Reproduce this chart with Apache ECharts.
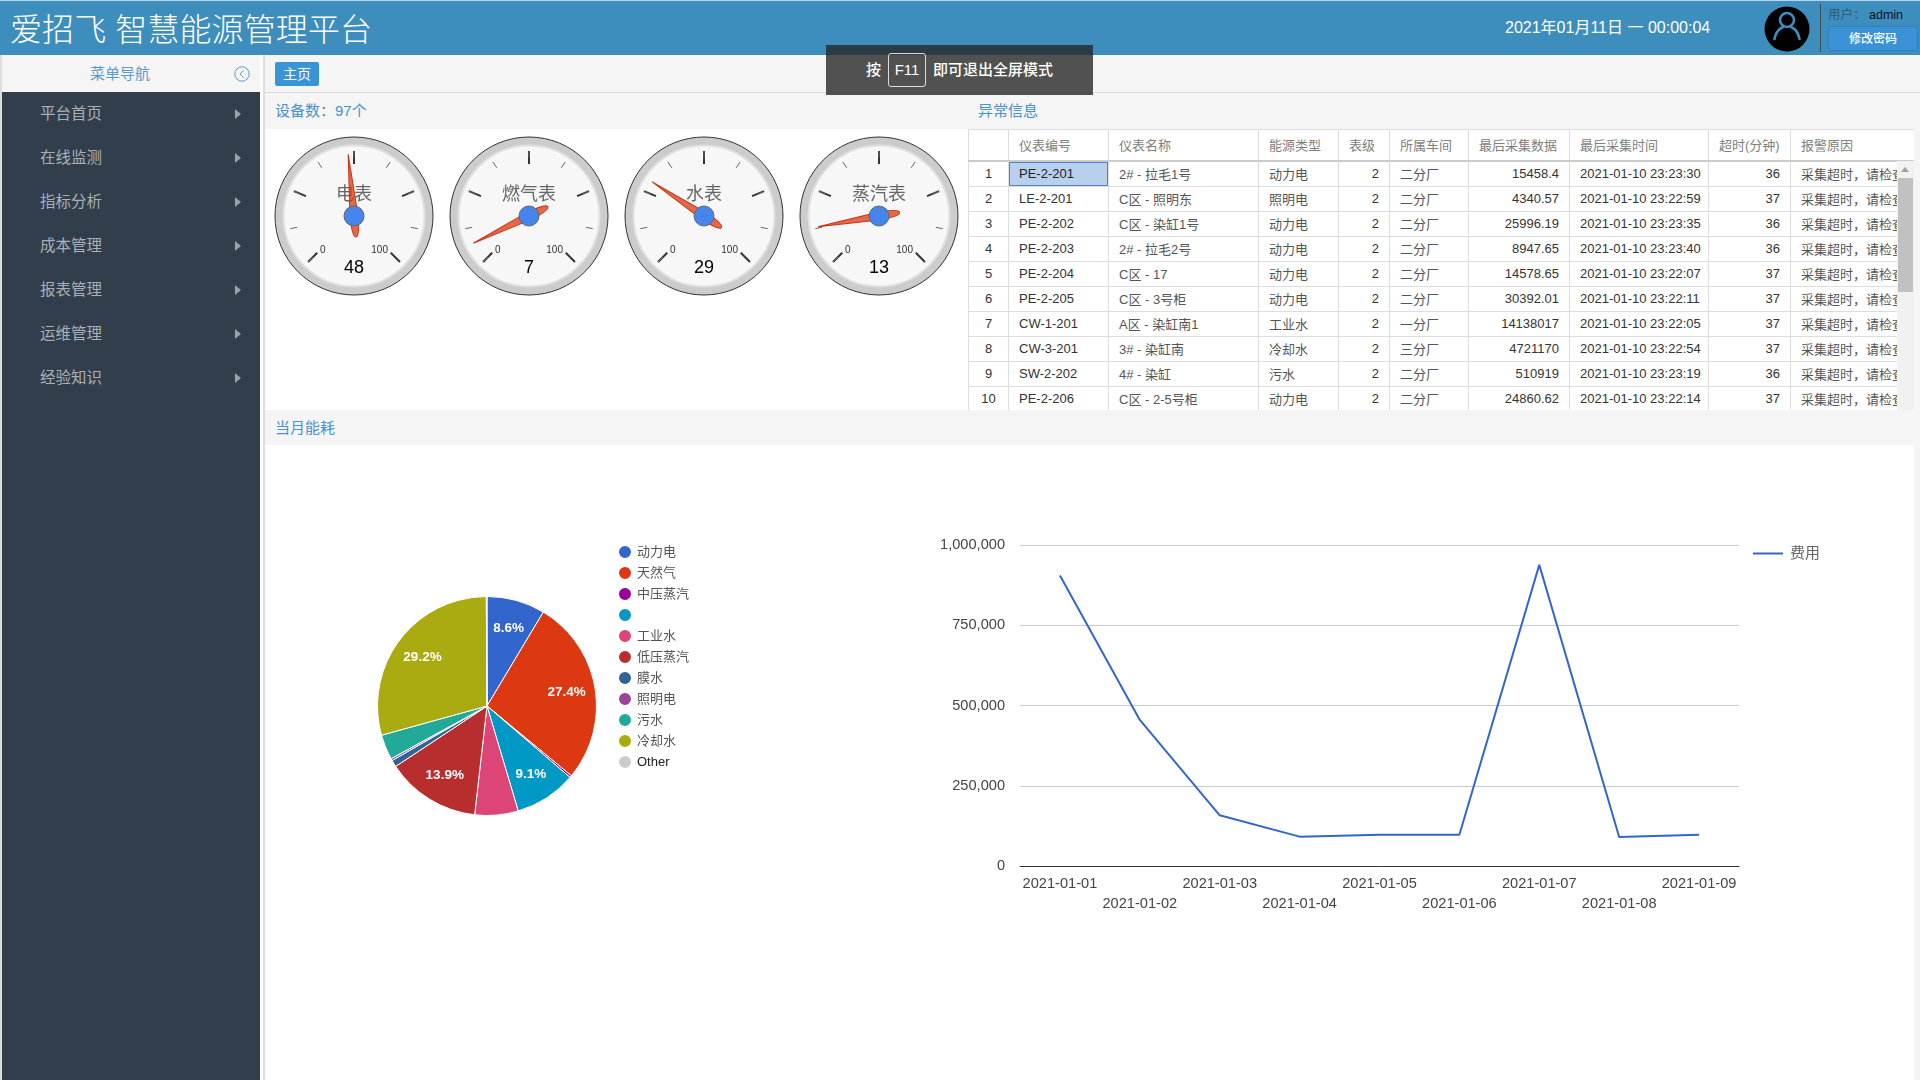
<!DOCTYPE html>
<html>
<head>
<meta charset="utf-8">
<title>爱招飞 智慧能源管理平台</title>
<script src="https://cdn.jsdelivr.net/npm/echarts@6/dist/echarts.min.js"></script>
<style>
  * { box-sizing: border-box; }
  html, body { margin: 0; width: 1920px; height: 1080px; overflow: hidden; background: #f5f5f5;
    font-family: "Liberation Sans", "Noto Sans CJK SC", sans-serif; }
  .abs { position: absolute; }
  #edge { left: 0; top: 55px; width: 2px; height: 1025px; background: #ddd; }
  #header { left: 0; top: 0; width: 1920px; height: 55px; background: #3d8ebd; border-top: 1px solid #b8d4e6; color: #fff; }
  #logo { left: 10px; top: 8px; font-size: 32px; line-height: 42px; font-weight: 300; white-space: nowrap; letter-spacing: 0.1px; }
  #clock { left: 1505px; top: 17px; font-size: 16px; line-height: 20px; white-space: nowrap; }
  #divider { left: 1820px; top: 3px; width: 1px; height: 48px; background: #3c4a52; }
  #user { left: 1828px; top: 6px; font-size: 12.5px; line-height: 16px; color: #2a5f80; white-space: nowrap; }
  #user em { font-style: normal; color: #111; }
  #pwd { left: 1828px; top: 25px; width: 90px; height: 25px; background: #3c92d6; border: 1px solid #2f80c4; border-radius: 3px;
    font-size: 12px; font-weight: 500; line-height: 24px; text-align: center; color: #fff; }
  #navtitle { left: 2px; top: 55px; width: 258px; height: 37px; background: #f5f5f5; color: #5b9bd0; font-size: 15px; line-height: 37px; text-align: center; padding-right: 22px; }
  #collapse { left: 234px; top: 66px; }
  #sidebar { left: 2px; top: 92px; width: 258px; height: 988px; background: #323e4c; }
  #sidebar div { position: relative; height: 44px; line-height: 44px; padding-left: 38px; font-size: 15.5px; color: #a9b0b7; }
  #sidebar div::after { content: ""; position: absolute; left: 233px; top: 17px; border-left: 6px solid #9aa2aa; border-top: 5px solid transparent; border-bottom: 5px solid transparent; }
  #gutter { left: 260px; top: 55px; width: 3px; height: 1025px; background: #fff; }
  #gutterline { left: 263px; top: 55px; width: 2px; height: 1025px; background: #ddd; }
  #crumb { left: 275px; top: 62px; width: 44px; height: 24px; background: #3a94d8; border-radius: 2px; color: #fff; font-size: 14px; line-height: 24px; text-align: center; }
  #crumbline { left: 264px; top: 92px; width: 1656px; height: 1px; background: #ddd; }
  .section { font-size: 15px; line-height: 20px; color: #4a90d2; white-space: nowrap; }
  #fsnote { left: 826px; top: 45px; width: 267px; height: 50px; background: rgba(40,40,40,.8); color: #fff; font-size: 15px; line-height: 50px; text-align: center; font-weight: 500; }
  #fsnote span { display: inline-block; width: 38px; height: 34px; line-height: 32px; border: 1px solid #ddd; border-radius: 3px; padding: 0; margin: 0 7px; font-weight: normal; }
  #gauges { left: 265px; top: 129px; width: 703px; height: 281px; background: #fff; }
  #tablewrap { left: 968px; top: 129px; width: 946px; height: 281px; background: #fff; overflow: hidden; border-top: 1px solid #ddd; }
  #headfill { left: 1897px; top: 160px; width: 17px; height: 1px; background: #ccc; }
  table { border-collapse: collapse; table-layout: fixed; width: 929px; font-size: 13px; color: #333; }
  th { height: 31px; font-weight: normal; color: #808080; text-align: left; padding: 0 10px 2px; border: 1px solid #ddd; border-bottom: 2px solid #ccc; border-top: 0; white-space: nowrap; overflow: hidden; }
  th:last-child { border-right: 0; }
  td { height: 25px; padding: 0 10px; border: 1px solid #ddd; white-space: nowrap; overflow: hidden; color: #555; }
  td.r, td.d { color: #333; }
  td.r { text-align: right; }
  td.c { text-align: center; padding: 0; color: #333; }
  td.sel { background: #b8d0ee; box-shadow: inset 0 0 0 1px #4a86c8; color: #222; }
  #scroll { left: 1897px; top: 161px; width: 17px; height: 249px; background: #f1f1f1; }
  #scroll i { position: absolute; left: 1px; top: 17px; width: 15px; height: 114px; background: #c1c1c1; }
  #scroll b { position: absolute; left: 4px; top: 6px; border-bottom: 5px solid #a0a0a0; border-left: 4px solid transparent; border-right: 4px solid transparent; }
  #lower { left: 265px; top: 445px; width: 1649px; height: 635px; background: #fff; }
  #pie { left: 265px; top: 445px; width: 699px; height: 635px; }
  #line { left: 900px; top: 445px; width: 1014px; height: 635px; }
</style>
</head>
<body>
<div id="edge" class="abs"></div>
<div id="header" class="abs">
  <div id="logo" class="abs">爱招飞 智慧能源管理平台</div>
  <div id="clock" class="abs">2021年01月11日 一 00:00:04</div>
  <svg class="abs" style="left:1764px;top:5px" width="46" height="46" viewBox="0 0 46 46">
    <circle cx="23" cy="23" r="22.5" fill="#000"/>
    <circle cx="23" cy="14" r="7" fill="none" stroke="#3d8ebd" stroke-width="2.6"/>
    <path d="M10.5 33 Q12 24 19 21 M35.5 33 Q34 24 27 21" fill="none" stroke="#3d8ebd" stroke-width="2.6" stroke-linecap="round"/>
  </svg>
  <div id="divider" class="abs"></div>
  <div id="user" class="abs">用户： <em>admin</em></div>
  <div id="pwd" class="abs">修改密码</div>
</div>
<div id="navtitle" class="abs">菜单导航</div>
<svg id="collapse" class="abs" width="16" height="16" viewBox="0 0 16 16">
  <circle cx="8" cy="8" r="7.2" fill="none" stroke="#5b9bd0"/>
  <path d="M9.5 4.5 L6 8 L9.5 11.5" fill="none" stroke="#5b9bd0"/>
</svg>
<div id="sidebar" class="abs"></div>
<div id="gutter" class="abs"></div>
<div id="gutterline" class="abs"></div>
<div id="crumb" class="abs">主页</div>
<div id="crumbline" class="abs"></div>
<div class="abs section" style="left:275px;top:101px">设备数：97个</div>
<div class="abs section" style="left:978px;top:101px">异常信息</div>
<div class="abs section" style="left:275px;top:418px">当月能耗</div>
<div id="gauges" class="abs"></div>
<div id="tablewrap" class="abs"><table id="alarms"></table></div>
<div id="headfill" class="abs"></div>
<div id="scroll" class="abs"><b></b><i></i></div>
<div id="lower" class="abs"></div>
<div id="pie" class="abs"></div>
<div id="line" class="abs"></div>
<div id="fsnote" class="abs">按<span>F11</span>即可退出全屏模式</div>

<script>
const menuItems = ['平台首页', '在线监测', '指标分析', '成本管理', '报表管理', '运维管理', '经验知识'];

const gaugeNames = ['电表', '燃气表', '水表', '蒸汽表'];
const gaugeValues = [48, 7, 29, 13];

const tableHeaders = ['', '仪表编号', '仪表名称', '能源类型', '表级', '所属车间', '最后采集数据', '最后采集时间', '超时(分钟)', '报警原因'];
const tableRows = [
  ['PE-2-201', '2# - 拉毛1号', '动力电', 2, '二分厂', '15458.4', '2021-01-10 23:23:30', 36],
  ['LE-2-201', 'C区 - 照明东', '照明电', 2, '二分厂', '4340.57', '2021-01-10 23:22:59', 37],
  ['PE-2-202', 'C区 - 染缸1号', '动力电', 2, '二分厂', '25996.19', '2021-01-10 23:23:35', 36],
  ['PE-2-203', '2# - 拉毛2号', '动力电', 2, '二分厂', '8947.65', '2021-01-10 23:23:40', 36],
  ['PE-2-204', 'C区 - 17', '动力电', 2, '二分厂', '14578.65', '2021-01-10 23:22:07', 37],
  ['PE-2-205', 'C区 - 3号柜', '动力电', 2, '二分厂', '30392.01', '2021-01-10 23:22:11', 37],
  ['CW-1-201', 'A区 - 染缸南1', '工业水', 2, '一分厂', '14138017', '2021-01-10 23:22:05', 37],
  ['CW-3-201', '3# - 染缸南', '冷却水', 2, '三分厂', '4721170', '2021-01-10 23:22:54', 37],
  ['SW-2-202', '4# - 染缸', '污水', 2, '二分厂', '510919', '2021-01-10 23:23:19', 36],
  ['PE-2-206', 'C区 - 2-5号柜', '动力电', 2, '二分厂', '24860.62', '2021-01-10 23:22:14', 37]
];
const alarmReason = '采集超时，请检查';

const pieNames = ['动力电', '天然气', '中压蒸汽', ' ', '工业水', '低压蒸汽', '膜水', '照明电', '污水', '冷却水', 'Other'];
const pieValues = [8.6, 27.4, 0.3, 9.1, 6.4, 13.9, 1.0, 0.3, 3.7, 29.2, 0.1];
const pieColors = ['#3366cc', '#dc3912', '#990099', '#0099c6', '#dd4477', '#b82e2e', '#316395', '#994499', '#22aa99', '#aaaa11', '#cccccc'];

const costDates = ['2021-01-01', '2021-01-02', '2021-01-03', '2021-01-04', '2021-01-05', '2021-01-06', '2021-01-07', '2021-01-08', '2021-01-09'];
const costValues = [905000, 455000, 158000, 91500, 97000, 97500, 938000, 90500, 97500];

const FONT = '"Liberation Sans", "Noto Sans CJK SC", sans-serif';

// sidebar + table are plain html
document.getElementById('sidebar').innerHTML = menuItems.map(m => '<div>' + m + '</div>').join('');

const colWidths = [40, 100, 150, 80, 51, 79, 101, 139, 82, 107];
let html = '<colgroup>' + colWidths.map(w => '<col style="width:' + w + 'px">').join('') + '</colgroup>';
html += '<tr>' + tableHeaders.map(h => '<th>' + h + '</th>').join('') + '</tr>';
tableRows.forEach((row, i) => {
  html += '<tr><td class="c">' + (i + 1) + '</td>';
  html += '<td class="d' + (i === 0 ? ' sel' : '') + '">' + row[0] + '</td>';
  html += '<td>' + row[1] + '</td><td>' + row[2] + '</td><td class="r">' + row[3] + '</td><td>' + row[4] + '</td>';
  html += '<td class="r">' + row[5] + '</td><td class="d">' + row[6] + '</td><td class="r">' + row[7] + '</td><td>' + alarmReason + '</td></tr>';
});
document.getElementById('alarms').innerHTML = html;

// gauges
const gaugeChart = echarts.init(document.getElementById('gauges'));
const gaugeX = [89, 264, 439, 614];
const gaugeY = 87;
gaugeChart.setOption({
  animation: false,
  graphic: gaugeX.flatMap(x => [
    { type: 'circle', shape: { cx: x, cy: gaugeY, r: 79 }, style: { fill: '#cccccc', stroke: '#333333', lineWidth: 1 } },
    { type: 'circle', shape: { cx: x, cy: gaugeY, r: 70.5 }, style: { fill: '#f7f7f7', stroke: '#e0e0e0', lineWidth: 2 } }
  ]),
  series: gaugeNames.map((name, i) => ({
    type: 'gauge',
    center: [gaugeX[i], gaugeY],
    radius: 65,
    startAngle: 225,
    endAngle: -45,
    min: 0,
    max: 100,
    splitNumber: 4,
    axisLine: { show: false, lineStyle: { width: 0 } },
    splitLine: { distance: 0, length: 13, lineStyle: { color: '#333333', width: 2 } },
    axisTick: { distance: 0, splitNumber: 2, length: 7, lineStyle: { color: '#666666', width: 1 } },
    axisLabel: {
      distance: 4, fontSize: 10, color: '#333333', fontFamily: FONT,
      formatter: v => (v === 0 || v === 100) ? String(v) : ''
    },
    pointer: {
      icon: 'path://M5 0 L10 74 Q10 100 5 100 Q0 100 0 74 Z',
      length: 83, width: 8, offsetCenter: [0, 21],
      itemStyle: { color: 'rgba(220,57,18,0.75)', borderColor: '#c63310', borderWidth: 1 }
    },
    anchor: { show: true, showAbove: true, size: 20, itemStyle: { color: '#4684ee', borderColor: '#666666', borderWidth: 1 } },
    title: { offsetCenter: [0, -21], fontSize: 18, color: '#666666', fontFamily: FONT },
    detail: { offsetCenter: [0, 52], fontSize: 18, color: '#000000', fontFamily: FONT, fontWeight: 'normal', formatter: '{value}' },
    data: [{ name, value: gaugeValues[i] }]
  }))
});

// pie
const pieChart = echarts.init(document.getElementById('pie'));
const pieCx = 222, pieCy = 261;
pieChart.setOption({
  animation: false,
  color: pieColors,
  legend: {
    orient: 'vertical', left: 347, top: 94, icon: 'circle',
    itemWidth: 14, itemHeight: 14, itemGap: 5,
    textStyle: { fontSize: 13, color: '#555555', fontFamily: FONT },
    data: pieNames.map(name => name === 'Other' ? { name, textStyle: { color: '#222222' } } : { name })
  },
  series: [{
    type: 'pie',
    center: [pieCx, pieCy],
    radius: 109.5,
    startAngle: 90,
    clockwise: true,
    itemStyle: { borderColor: '#ffffff', borderWidth: 1 },
    label: {
      position: 'inside', color: '#ffffff', fontSize: 13.5, fontWeight: 'bold', fontFamily: FONT,
      formatter: p => p.value >= 8 ? p.value.toFixed(1) + '%' : ''
    },
    labelLayout: p => {
      // google puts the labels further out than the mid radius
      const lx = p.labelRect.x + p.labelRect.width / 2, ly = p.labelRect.y + p.labelRect.height / 2;
      return { dx: (lx - pieCx) * 0.4, dy: (ly - pieCy) * 0.4 };
    },
    data: pieNames.map((name, i) => ({ name, value: pieValues[i] }))
  }]
});

// line
const lineChart = echarts.init(document.getElementById('line'));
lineChart.setOption({
  animation: false,
  grid: { left: 120, top: 100, width: 719, height: 321 },
  legend: {
    left: 848, top: 96, icon: 'rect', itemWidth: 30, itemHeight: 2, itemGap: 6,
    textStyle: { fontSize: 15, color: '#666666', fontFamily: FONT, padding: [0, 0, 0, 2] },
    data: ['费用']
  },
  xAxis: {
    type: 'category', data: costDates, boundaryGap: true,
    axisLine: { lineStyle: { color: '#333333', width: 1 } },
    axisTick: { show: false },
    axisLabel: {
      interval: 0, hideOverlap: false, margin: 8, fontSize: 14.6, lineHeight: 20, color: '#444444', fontFamily: FONT, verticalAlign: 'top',
      formatter: (v, i) => i % 2 ? '\n' + v : v
    }
  },
  yAxis: {
    type: 'value', min: 0, max: 1000000, interval: 250000,
    axisLine: { show: false }, axisTick: { show: false },
    splitLine: { lineStyle: { color: '#cccccc', width: 1 } },
    axisLabel: { margin: 15, fontSize: 14.6, color: '#444444', fontFamily: FONT, formatter: v => v.toLocaleString('en-US') }
  },
  series: [{
    name: '费用', type: 'line', data: costValues, symbol: 'none',
    lineStyle: { color: '#3366cc', width: 2 }, itemStyle: { color: '#3366cc' }
  }]
});
</script>
</body>
</html>
